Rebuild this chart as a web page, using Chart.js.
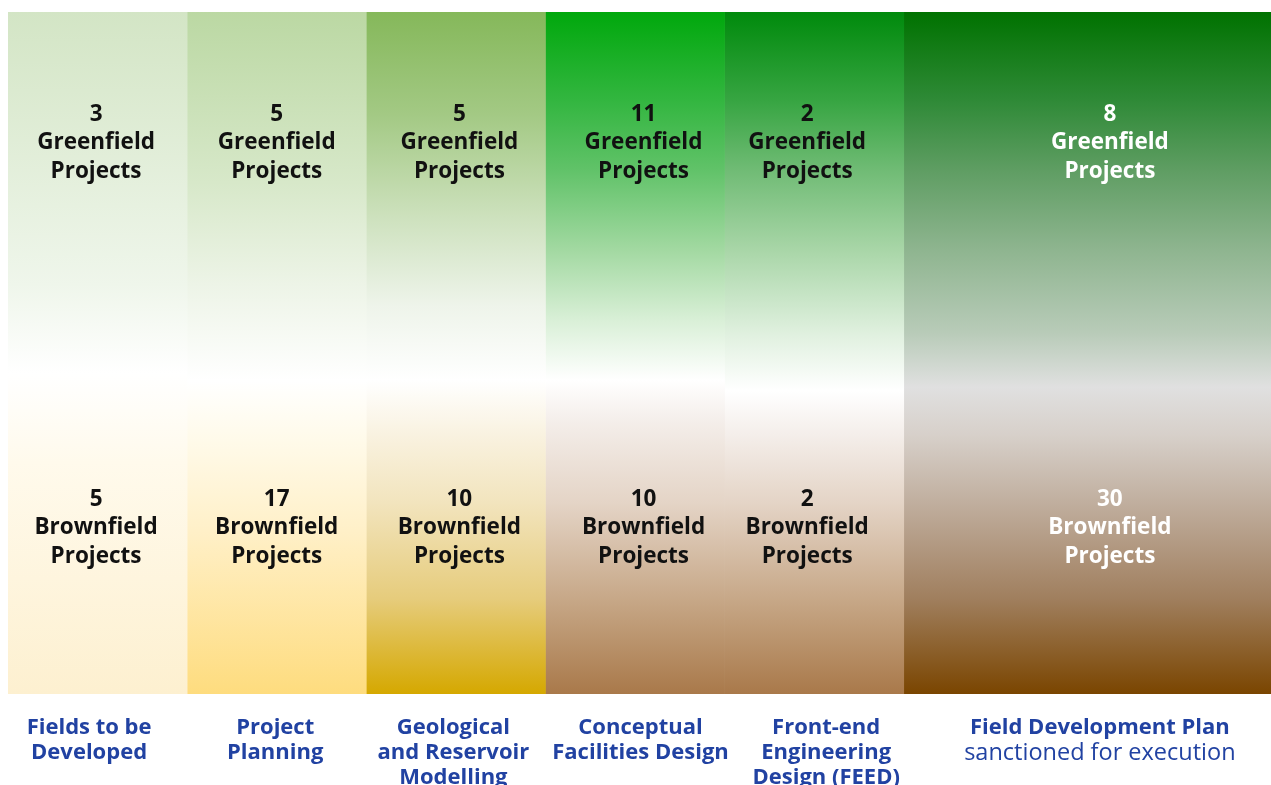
<!DOCTYPE html>
<html><head><meta charset="utf-8">
<script src="https://cdn.jsdelivr.net/npm/chart.js@4"></script>
<style>html,body{margin:0;padding:0;background:#fff;overflow:hidden}canvas{display:block}</style>
</head><body>
<canvas id="c" width="1271" height="785"></canvas>
<script>
// ---- data ----
const stages = ['Fields to be Developed','Project Planning','Geological and Reservoir Modelling','Conceptual Facilities Design','Front-end Engineering Design (FEED)','Field Development Plan'];
const stageLabelLines = [['Fields to be','Developed'],['Project','Planning'],['Geological','and Reservoir','Modelling'],['Conceptual','Facilities Design'],['Front-end','Engineering','Design (FEED)'],['Field Development Plan','sanctioned for execution']];
const rows = ['Greenfield','Brownfield'];
const greenfield = [3,5,5,11,2,8];
const brownfield = [5,17,10,10,2,30];

// ---- styles ----
const LAST_STAGE_UNITS = 2.05;
const gradients = [
 [[0,'#d3e5c5'],[0.40,'#eff6eb'],[0.53,'#ffffff'],[0.66,'#fffaec'],[1,'#fdf0d0']],
 [[0,'#bbd8a3'],[0.25,'#d7e8c9'],[0.40,'#edf4e7'],[0.54,'#ffffff'],[0.63,'#fffae9'],[0.76,'#fff0c8'],[1,'#fedc7e']],
 [[0,'#85b85a'],[0.15,'#a3c984'],[0.30,'#cde1bd'],[0.43,'#eef4ea'],[0.54,'#ffffff'],[0.62,'#f9f2e0'],[0.72,'#f2e4bd'],[0.86,'#e6cc7c'],[1,'#d5a800']],
 [[0,'#00a80c'],[0.13,'#33b640'],[0.23,'#60c268'],[0.35,'#a3d9a2'],[0.45,'#d8efd6'],[0.54,'#ffffff'],[0.60,'#f4eeea'],[0.72,'#e4d4c6'],[0.86,'#c7a888'],[1,'#a9794a']],
 [[0,'#008a0c'],[0.13,'#37a542'],[0.23,'#6fbb74'],[0.35,'#a9d6a8'],[0.47,'#dff0de'],[0.555,'#ffffff'],[0.62,'#f4eeea'],[0.72,'#e4d4c6'],[0.86,'#c7a888'],[1,'#a9794a']],
 [[0,'#007200'],[0.13,'#2f8a37'],[0.23,'#5e9d62'],[0.35,'#8fb590'],[0.47,'#b8cbb8'],[0.55,'#e0e0e0'],[0.62,'#d7d0ca'],[0.72,'#c0ae9e'],[0.86,'#a07f5e'],[1,'#7a4500']]
];
const textColors = ['#111','#111','#111','#111','#111','#fff'];
const countTextShift = [-1.5,0,3.5,8.5,-7,22.5];
const labelTextShift = [-8.5,-1.5,-2.5,5.5,12,12.5];
const LABEL_BLUE = '#2142a2';
const FONT = '"Open Sans", sans-serif';

const gradCache = {};
function colGradient(i, chart){
  const a = chart.chartArea;
  if(!a) return gradients[i][0][1];
  const key = i+':'+a.top+':'+a.bottom;
  if(gradCache[key]) return gradCache[key];
  const g = chart.ctx.createLinearGradient(0,a.top,0,a.bottom);
  gradients[i].forEach(([s,c])=>g.addColorStop(s,c));
  return gradCache[key]=g;
}

const datasets = stages.map((name,i)=>{
  const x0 = i, x1 = i===stages.length-1 ? i+LAST_STAGE_UNITS : i+1;
  return {
    label:name,
    data: rows.map(()=>[x0,x1]),
    backgroundColor: ctx=>colGradient(i, ctx.chart),
    borderWidth:0,
    grouped:false,
    barPercentage:1,
    categoryPercentage:1
  };
});

const textPlugin = {
  id:'texts',
  afterDatasetsDraw(chart){
    const c = chart.ctx;
    const area = chart.chartArea;
    c.save();
    c.textAlign='center';
    c.textBaseline='middle';
    chart.data.datasets.forEach((ds,i)=>{
      const meta = chart.getDatasetMeta(i);
      const g = meta.data[0], b = meta.data[1];
      const cx = (g.x + g.base)/2;
      const tx = cx + countTextShift[i];
      c.fillStyle = textColors[i];
      c.font = '700 22.5px '+FONT;
      const gl = [String(greenfield[i]), rows[0], 'Projects'];
      gl.forEach((t,k)=>c.fillText(t, tx, g.y - 68 + k*28.5));
      const bl = [String(brownfield[i]), rows[1], 'Projects'];
      bl.forEach((t,k)=>c.fillText(t, tx, b.y - 24 + k*28.5));
      // stage labels
      c.fillStyle = LABEL_BLUE;
      const lx = cx + labelTextShift[i];
      stageLabelLines[i].forEach((t,k)=>{
        const regular = i===stages.length-1 && k===1;
        c.font = regular ? '400 23.5px ' + FONT : '700 22px ' + FONT;
        c.fillText(t, lx, area.bottom + 34 + k*25);
      });
    });
    c.restore();
  }
};

new Chart(document.getElementById('c'), {
  type:'bar',
  data:{labels:rows, datasets},
  options:{
    indexAxis:'y',
    responsive:false,
    animation:false,
    layout:{padding:{left:8,right:0,top:12,bottom:91}},
    plugins:{legend:{display:false},tooltip:{enabled:false}},
    scales:{
      x:{type:'linear',min:0,max:stages.length-1+LAST_STAGE_UNITS,display:false},
      y:{type:'category',labels:rows,display:false}
    }
  },
  plugins:[textPlugin]
});
</script>
</body></html>
